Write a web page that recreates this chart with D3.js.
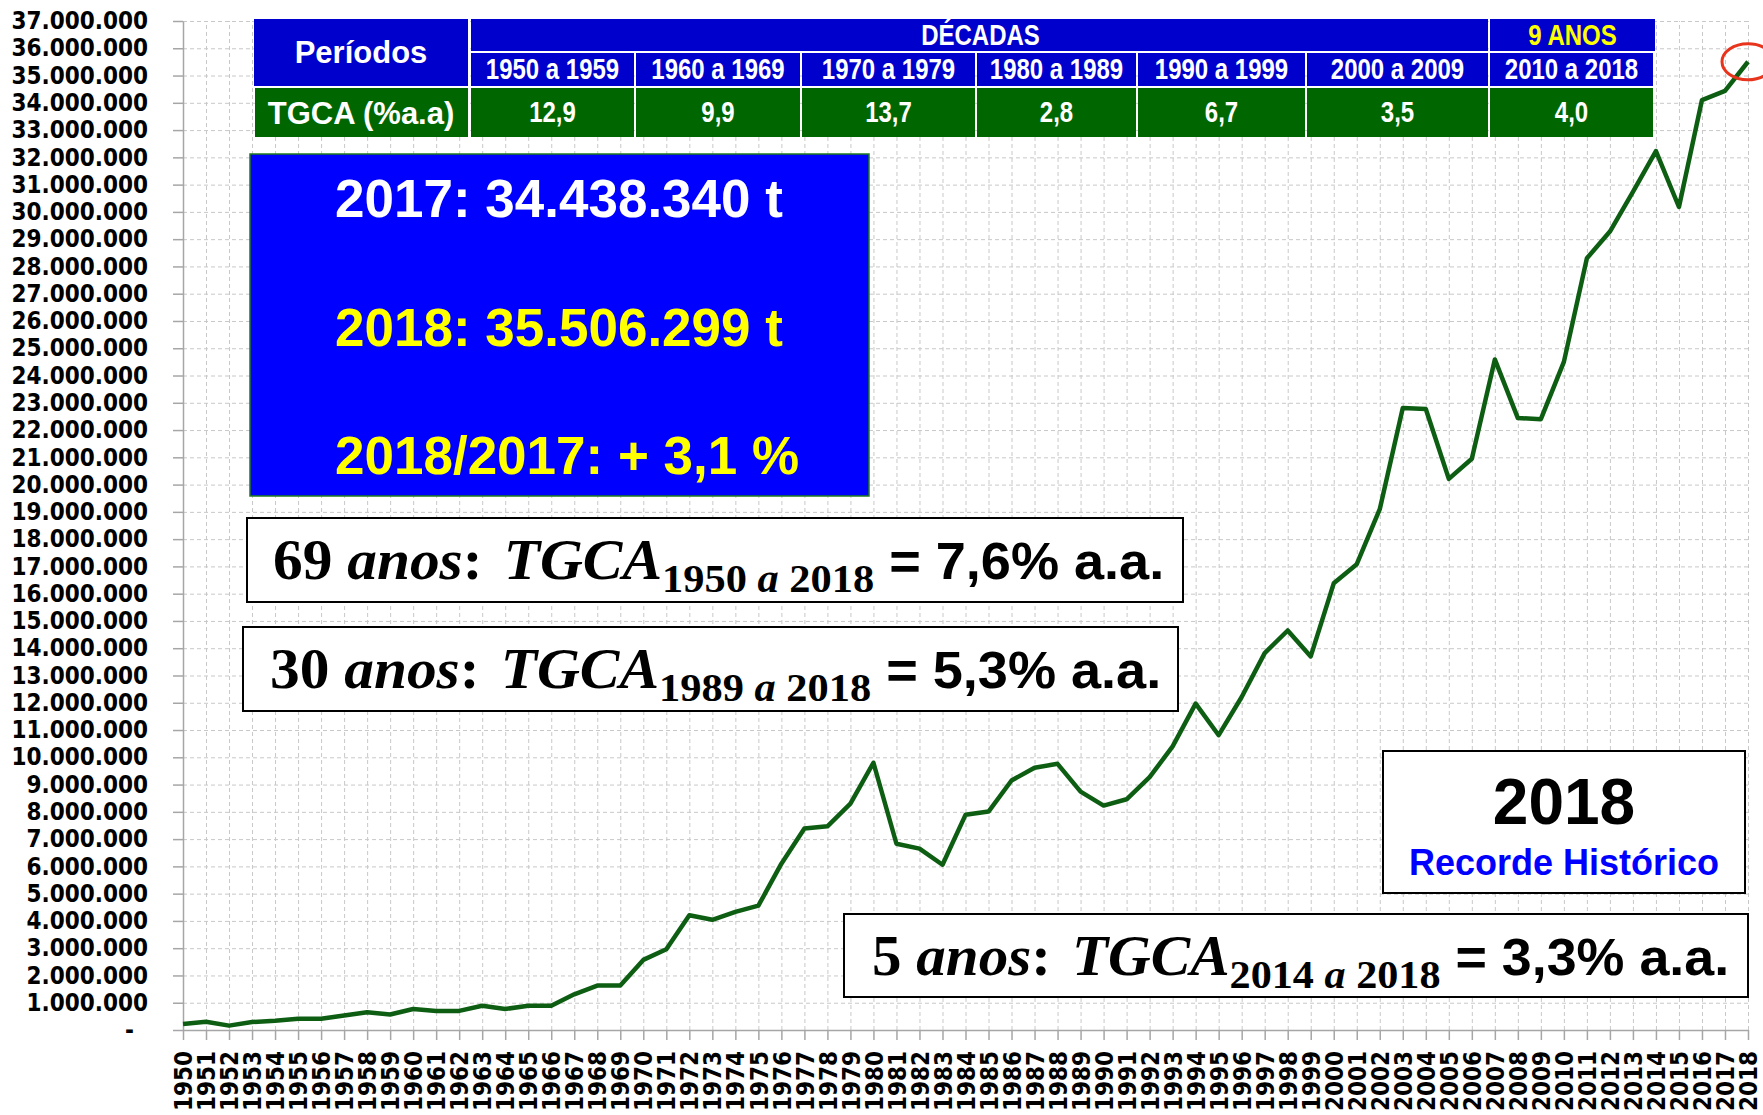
<!DOCTYPE html>
<html>
<head>
<meta charset="utf-8">
<script src="https://cdn.jsdelivr.net/npm/d3@7"></script>
<style>
  body { margin: 0; background: #fff; }
  svg { display: block; }
</style>
</head>
<body>
<svg id="chart" width="1763" height="1115"></svg>
<script>
// anos e produção (t)
const anos = d3.range(1950, 2019);
const producao = [
  220000, 300000, 160000, 290000, 340000, 410000, 410000, 530000, 650000, 570000,
  770000, 700000, 700000, 890000, 770000, 890000, 890000, 1310000, 1630000, 1630000,
  2570000, 2960000, 4210000, 4040000, 4330000, 4560000, 6100000, 7390000, 7470000, 8300000,
  9800000, 6830000, 6650000, 6060000, 7890000, 8010000, 9150000, 9620000, 9760000, 8740000,
  8230000, 8460000, 9270000, 10400000, 11970000, 10810000, 12210000, 13820000, 14650000, 13700000,
  16380000, 17080000, 19100000, 22810000, 22770000, 20210000, 20950000, 24590000, 22440000, 22400000,
  24500000, 28300000, 29280000, 30730000, 32230000, 30180000, 34100000, 34438340, 35506299
];
const yTicks = d3.range(0, 37000001, 1000000);

// tabela
const decadas = ["1950 a 1959", "1960 a 1969", "1970 a 1979", "1980 a 1989", "1990 a 1999", "2000 a 2009", "2010 a 2018"];
const tgca = [12.9, 9.9, 13.7, 2.8, 6.7, 3.5, 4.0];

// caixas de texto
const destaques = ["2017: 34.438.340 t", "2018: 35.506.299 t", "2018/2017: + 3,1 %"];
const formulas = [
  { anos: "69", de: "1950", ate: "2018", taxa: "7,6" },
  { anos: "30", de: "1989", ate: "2018", taxa: "5,3" },
  { anos: "5",  de: "2014", ate: "2018", taxa: "3,3" }
];

const sans = "'Liberation Sans', Arial, sans-serif";
const serif = "'Liberation Serif', 'Times New Roman', serif";
const axisFont = "'DejaVu Sans Condensed', 'DejaVu Sans', sans-serif";

const svg = d3.select("#chart");
const ptBR = d3.formatLocale({ decimal: ",", thousands: ".", grouping: [3], currency: ["", ""] });
const fmtT = ptBR.format(",d");
const fmt1 = ptBR.format(".1f");

const x = d3.scaleLinear().domain([1950, 2018]).range([183, 1748]);
const y = d3.scaleLinear().domain([0, 37000000]).range([1030, 21]);

// grade tracejada
svg.append("g")
  .attr("transform", `translate(0,${y(0)})`)
  .call(d3.axisBottom(x).tickValues(anos.slice(1)).tickSize(y(37000000) - y(0)).tickFormat(""))
  .call(g => g.select(".domain").remove())
  .selectAll("line").attr("stroke", "#c8c8c8").attr("stroke-dasharray", "4,3");

svg.append("g")
  .attr("transform", `translate(${x(1950)},0)`)
  .call(d3.axisLeft(y).tickValues(yTicks.slice(1)).tickSize(x(1950) - x(2018)).tickFormat(""))
  .call(g => g.select(".domain").remove())
  .selectAll("line").attr("stroke", "#c8c8c8").attr("stroke-dasharray", "4,3");

// eixos
const yAxis = svg.append("g")
  .attr("transform", `translate(${x(1950)},0)`)
  .call(d3.axisLeft(y).tickValues(yTicks).tickSize(10).tickSizeOuter(0).tickPadding(25)
    .tickFormat(d => d === 0 ? "-" : fmtT(d)));
yAxis.selectAll("line, path").attr("stroke", "#a6a6a6").attr("stroke-width", 1.5);
yAxis.selectAll("text")
  .attr("font-family", axisFont).attr("font-weight", "bold").attr("font-size", 24).attr("fill", "#000")
  .attr("dx", d => d === 0 ? -14 : 0);

const xAxis = svg.append("g")
  .attr("transform", `translate(0,${y(0)})`)
  .call(d3.axisBottom(x).tickValues(anos).tickSize(10).tickSizeOuter(0).tickFormat(d3.format("d")));
xAxis.selectAll("line, path").attr("stroke", "#a6a6a6").attr("stroke-width", 1.5);
xAxis.selectAll("text")
  .attr("font-family", axisFont).attr("font-weight", "bold").attr("font-size", 24).attr("fill", "#000")
  .attr("transform", "rotate(-90)")
  .attr("text-anchor", "end")
  .attr("x", -21).attr("y", 0).attr("dy", "0.36em");

// linha
const dados = anos.map((a, i) => ({ ano: a, valor: producao[i] }));
svg.append("path")
  .datum(dados)
  .attr("fill", "none")
  .attr("stroke", "#0d5e12")
  .attr("stroke-width", 4.5)
  .attr("stroke-linejoin", "round")
  .attr("d", d3.line().x(d => x(d.ano)).y(d => y(d.valor)));

// tabela
const colEdges = [471, 636, 802, 977, 1138, 1307, 1490, 1655];
const tab = svg.append("g");
function cell(x0, y0, x1, y1, fill) {
  tab.append("rect").attr("x", x0).attr("y", y0).attr("width", x1 - x0).attr("height", y1 - y0).attr("fill", fill);
}
// sq: compressão horizontal (imita Arial Narrow)
function label(cx, by, txt, size, fill, sq = 1) {
  tab.append("text").attr("transform", `translate(${cx},${by}) scale(${sq},1)`)
    .attr("text-anchor", "middle")
    .attr("font-family", sans).attr("font-weight", "bold").attr("font-size", size).attr("fill", fill).text(txt);
}
const sq = 0.8;
cell(254, 19, 468, 86, "#0000cc");
label(361, 63, "Períodos", 31, "#fff");
cell(255, 88, 468, 137, "#006600");
label(361, 124, "TGCA (%a.a)", 31, "#fff");
cell(colEdges[0], 19, colEdges[6] - 2, 51, "#0000cc");
label((colEdges[0] + colEdges[6]) / 2, 45, "DÉCADAS", 30, "#fff", sq);
cell(colEdges[6], 19, colEdges[7], 51, "#0000cc");
label((colEdges[6] + colEdges[7]) / 2, 45, "9 ANOS", 30, "#ffff00", sq);
decadas.forEach((d, i) => {
  const x0 = colEdges[i], x1 = colEdges[i + 1] - 2, cx = (x0 + x1) / 2;
  cell(x0, 53, x1, 86, "#0000cc");
  label(cx, 79, d, 30, "#fff", sq);
  cell(x0, 88, x1, 137, "#006600");
  label(cx, 122, fmt1(tgca[i]), 30, "#fff", sq);
});

// caixa azul
const caixa = svg.append("g");
caixa.append("rect").attr("x", 250).attr("y", 154).attr("width", 619).attr("height", 342)
  .attr("fill", "#0000ff").attr("stroke", "#1e7a1e").attr("stroke-width", 1.5);
caixa.selectAll("text").data(destaques).join("text")
  .attr("x", 335).attr("y", (d, i) => 217 + i * 128.5)
  .attr("font-family", sans).attr("font-weight", "bold").attr("font-size", 53)
  .attr("fill", (d, i) => i === 0 ? "#fff" : "#ffff00")
  .text(d => d);

// fórmulas TGCA
const caixasF = [
  { x: 247, y: 518, w: 936, h: 84, tx: 26, tw: 885 },
  { x: 243, y: 627, w: 935, h: 84, tx: 27, tw: 885 },
  { x: 844, y: 914, w: 904, h: 83, tx: 28, tw: 851 }
];
formulas.forEach((f, i) => {
  const b = caixasF[i];
  const g = svg.append("g").attr("transform", `translate(${b.x},${b.y})`);
  g.append("rect").attr("width", b.w).attr("height", b.h)
    .attr("fill", "#fff").attr("stroke", "#000").attr("stroke-width", 2);
  const t = g.append("text").attr("x", 0).attr("y", 61)
    .attr("font-family", serif).attr("font-weight", "bold").attr("font-size", 56)
    .style("white-space", "pre");
  t.append("tspan").text(f.anos + " ");
  t.append("tspan").attr("font-style", "italic").text("anos");
  t.append("tspan").text(": ");
  t.append("tspan").attr("dx", 6).attr("font-style", "italic").text("TGCA");
  t.append("tspan").attr("font-size", 40).attr("dy", 13).text(f.de + " ");
  t.append("tspan").attr("font-size", 40).attr("font-style", "italic").text("a");
  t.append("tspan").attr("font-size", 40).text(" " + f.ate);
  t.append("tspan").attr("dy", -13).attr("font-family", sans).attr("font-size", 51)
    .text(" = " + f.taxa + "% a.a.");
  const w = t.node().getComputedTextLength();
  t.attr("transform", `translate(${b.tx},0) scale(${b.tw / w},1)`);
});

// recorde
const rec = svg.append("g");
rec.append("rect").attr("x", 1383).attr("y", 751).attr("width", 362).attr("height", 142)
  .attr("fill", "#fff").attr("stroke", "#000").attr("stroke-width", 2);
rec.append("text").attr("x", 1564).attr("y", 824).attr("text-anchor", "middle")
  .attr("font-family", sans).attr("font-weight", "bold").attr("font-size", 64).attr("fill", "#000")
  .text("2018");
rec.append("text").attr("x", 1564).attr("y", 875).attr("text-anchor", "middle")
  .attr("font-family", sans).attr("font-weight", "bold").attr("font-size", 36).attr("fill", "#0000ff")
  .text("Recorde Histórico");

// círculo no último ponto
const ultimo = dados[dados.length - 1];
svg.append("ellipse")
  .attr("cx", x(ultimo.ano)).attr("cy", y(ultimo.valor))
  .attr("rx", 26).attr("ry", 18)
  .attr("fill", "none").attr("stroke", "#e8341c").attr("stroke-width", 3);
</script>
</body>
</html>
